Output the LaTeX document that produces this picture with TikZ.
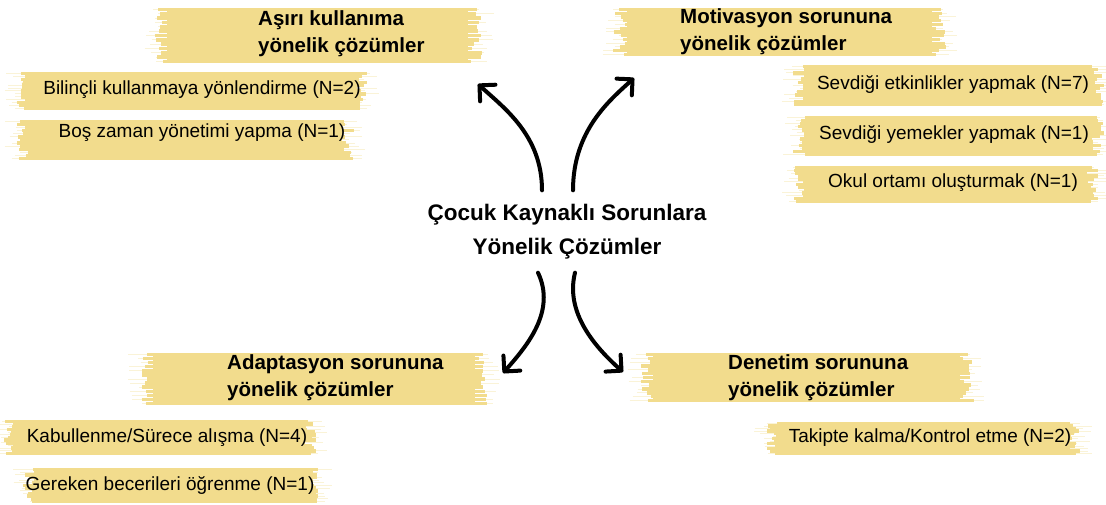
\documentclass[tikz,border=0pt]{standalone}
\usepackage{fontspec}
\setmainfont{Liberation Sans}
\usetikzlibrary{arrows.meta}

\definecolor{brushyellow}{HTML}{F2DC8D}

% yellow brush stroke behind a text: x1 y1 x2 y2
\newcommand{\brush}[4]{%
  \fill[brushyellow] (#1+10,#2+2) rectangle (#3-10,#4-2);
  \foreach \k in {0,...,12}{
    \pgfmathsetmacro\yy{#2+1.5+\k*(#4-#2-3)/12}
    \pgfmathsetmacro\la{#1+2+6*rand}
    \pgfmathsetmacro\lb{#3-2+6*rand}
    \draw[brushyellow, line width=3.4pt] (\la,\yy) -- (\lb,\yy);
    \pgfmathsetmacro\fa{#1-6+10*rand}
    \pgfmathsetmacro\fb{#3+6+10*rand}
    \draw[brushyellow, line width=1pt, opacity=.35] (\fa,\yy) -- (\fb,\yy);
  }%
}

\begin{document}
\begin{tikzpicture}
		[
			x=1pt, y=-1pt,
			title/.style={anchor=west, align=left, inner sep=0pt, font=\fontsize{20.5}{27}\selectfont\bfseries},
			item/.style={inner sep=0pt, font=\fontsize{19}{22}\selectfont},
			root/.style={align=center, inner sep=0pt, font=\fontsize{22.5}{34}\selectfont\bfseries},
			arrow/.style={-{Straight Barb[angle=90:16pt,round]}, line width=4pt, line cap=round}
		]

		\useasboundingbox (0,0) rectangle (1106,505);
		\pgfmathsetseed{7}

		% brushes
		\foreach \xa/\ya/\xb/\yb in {157/8/478/63, 20/72/363/110, 20/120/350/160,
			617/8/942/56, 797/65/1100/106, 797/116/1100/156, 797/166/1095/203,
			143/353/485/405, 7/420/313/455, 27/468/317/503,
			643/353/970/402, 770/422/1077/455}
		\brush{\xa}{\ya}{\xb}{\yb};

		% centre
		\node[root] (root) at (567,232) {Çocuk Kaynaklı Sorunlara\\Yönelik Çözümler};

		% titles
		\node[title] (tA) at (258,34) {Aşırı kullanıma\\yönelik çözümler};
		\node[title] (tM) at (680,32) {Motivasyon sorununa\\yönelik çözümler};
		\node[title] (tK) at (227,378) {Adaptasyon sorununa\\yönelik çözümler};
		\node[title] (tD) at (728,378) {Denetim sorununa\\yönelik çözümler};

		% items for asiri kullanim
		\node[item] (a1) at (202,90) {Bilinçli kullanmaya yönlendirme (N=2)};
		\node[item] (a2) at (202,133) {Boş zaman yönetimi yapma (N=1)};

		% items for motivasyon
		\node[item] (m1) at (953,84) {Sevdiği etkinlikler yapmak (N=7)};
		\node[item] (m2) at (954,134) {Sevdiği yemekler yapmak (N=1)};
		\node[item] (m3) at (953,183) {Okul ortamı oluşturmak (N=1)};

		% items for adaptasyon
		\node[item] (k1) at (167,438) {Kabullenme/Sürece alışma (N=4)};
		\node[item] (k2) at (170,485) {Gereken becerileri öğrenme (N=1)};

		% items for denetim
		\node[item] (d1) at (930,438) {Takipte kalma/Kontrol etme (N=2)};

		% arrow ends
		\coordinate (endA) at (478,84);
		\coordinate (endM) at (634,78);
		\coordinate (endK) at (503,373);
		\coordinate (endD) at (623,372);

		% arrows
		\draw[arrow] ([xshift=-25pt,yshift=14pt]root.north) .. controls +(0,-55) and +(26,24) .. (endA);
		\draw[arrow] ([xshift=6pt,yshift=14pt]root.north) .. controls +(0,-60) and +(-24,22) .. (endM);
		\draw[arrow] ([xshift=-29pt,yshift=-13pt]root.south) .. controls +(18,38) and +(25,-28) .. (endK);
		\draw[arrow] ([xshift=8pt,yshift=-13pt]root.south) .. controls +(-10,40) and +(-28,-25) .. (endD);

	\end{tikzpicture}
\end{document}
